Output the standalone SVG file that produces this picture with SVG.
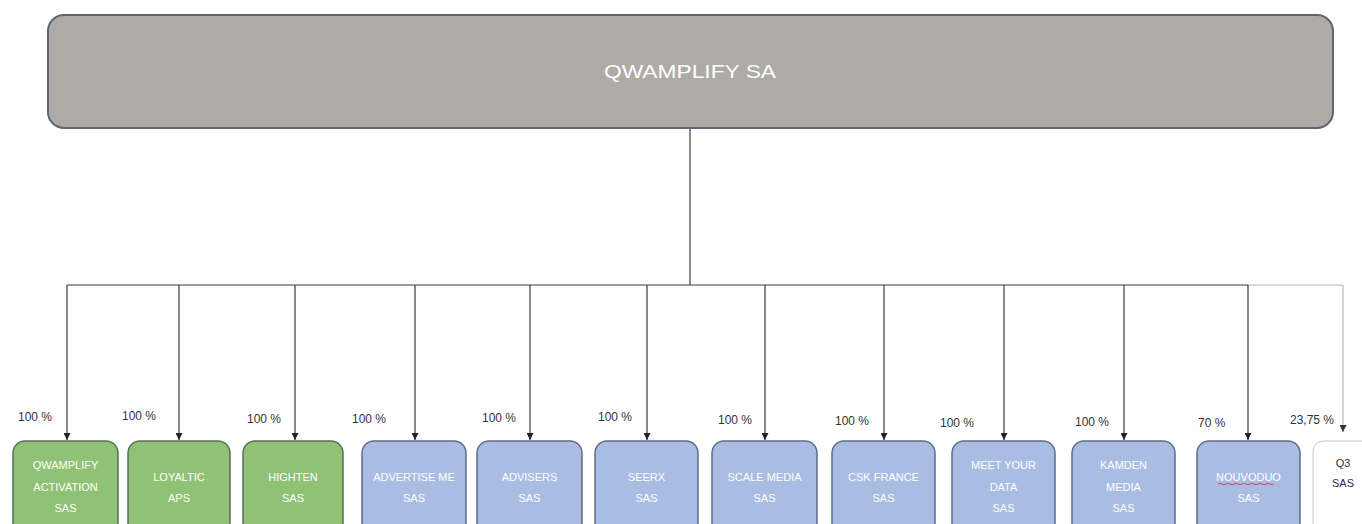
<svg xmlns="http://www.w3.org/2000/svg" width="1362" height="524" viewBox="0 0 1362 524">
<defs>
<marker id="ah" viewBox="0 0 8 8" refX="8" refY="4" markerWidth="7" markerHeight="7" markerUnits="userSpaceOnUse" orient="auto">
<path d="M0,0 L8,4 L0,8 Z" fill="#222"/>
</marker>
<marker id="ahl" viewBox="0 0 8 8" refX="8" refY="4" markerWidth="7" markerHeight="7" markerUnits="userSpaceOnUse" orient="auto">
<path d="M0,0 L8,4 L0,8 Z" fill="#333"/>
</marker>
<style>
.top{fill:#aeaba7;stroke:#5f6673;stroke-width:2}
.g{fill:#8fc274;stroke:#566f5a;stroke-width:1.5}
.b{fill:#a9bde2;stroke:#5b6b89;stroke-width:1.5}
.w{fill:#ffffff;stroke:#c8c8c8;stroke-width:1}
.t{font-family:"Liberation Sans",Arial,sans-serif;font-size:11px;fill:#ffffff;text-anchor:middle}
.td{font-family:"Liberation Sans",Arial,sans-serif;font-size:11px;fill:#333;text-anchor:middle}
.pct{font-family:"Liberation Sans",Arial,sans-serif;font-size:12px;fill:#333}
.c{stroke:#3a3a3a;stroke-width:1.2;fill:none}
.cl{stroke:#b5b5b5;stroke-width:1.2;fill:none}
</style>
</defs>
<rect width="1362" height="524" fill="#ffffff"/>

<g id="connectors">
<line class="c" x1="690" y1="128" x2="690" y2="285" stroke-width="2.2"/>
<line class="c" x1="67" y1="285" x2="1248" y2="285" stroke-width="2"/>
<line class="cl" x1="1248" y1="285" x2="1343" y2="285" stroke-width="1.6"/>
<line class="c" x1="67" y1="285" x2="67" y2="440" marker-end="url(#ah)"/>
<line class="c" x1="179" y1="285" x2="179" y2="440" marker-end="url(#ah)"/>
<line class="c" x1="295" y1="285" x2="295" y2="440" marker-end="url(#ah)"/>
<line class="c" x1="415" y1="285" x2="415" y2="440" marker-end="url(#ah)"/>
<line class="c" x1="530" y1="285" x2="530" y2="440" marker-end="url(#ah)"/>
<line class="c" x1="647" y1="285" x2="647" y2="440" marker-end="url(#ah)"/>
<line class="c" x1="765" y1="285" x2="765" y2="440" marker-end="url(#ah)"/>
<line class="c" x1="884" y1="285" x2="884" y2="440" marker-end="url(#ah)"/>
<line class="c" x1="1004" y1="285" x2="1004" y2="440" marker-end="url(#ah)"/>
<line class="c" x1="1124" y1="285" x2="1124" y2="440" marker-end="url(#ah)"/>
<line class="c" x1="1248" y1="285" x2="1248" y2="440" marker-end="url(#ah)"/>
<line class="cl" x1="1343" y1="285" x2="1343" y2="432" marker-end="url(#ahl)"/>
<text class="pct" x="18" y="421">100 %</text>
<text class="pct" x="122" y="420">100 %</text>
<text class="pct" x="247" y="423">100 %</text>
<text class="pct" x="352" y="423">100 %</text>
<text class="pct" x="482" y="422">100 %</text>
<text class="pct" x="598" y="421">100 %</text>
<text class="pct" x="718" y="424">100 %</text>
<text class="pct" x="835" y="425">100 %</text>
<text class="pct" x="940" y="427">100 %</text>
<text class="pct" x="1075" y="426">100 %</text>
<text class="pct" x="1198" y="427">70 %</text>
<text class="pct" x="1290" y="424">23,75 %</text>
</g>

<g id="qwamplify-sa">
<rect class="top" x="48" y="15" width="1285" height="113" rx="16"/>
<text x="690" y="78" font-family="Liberation Sans,Arial,sans-serif" font-size="19" fill="#ffffff" text-anchor="middle" textLength="172" lengthAdjust="spacingAndGlyphs">QWAMPLIFY SA</text>
</g>

<g id="qwamplify-activation">
<rect class="g" x="13" y="441" width="105" height="94" rx="12"/>
<text class="t" x="65.5" y="469">QWAMPLIFY</text>
<text class="t" x="65.5" y="491">ACTIVATION</text>
<text class="t" x="65.5" y="512">SAS</text>
</g>
<g id="loyaltic">
<rect class="g" x="128" y="441" width="102" height="94" rx="12"/>
<text class="t" x="179" y="481">LOYALTIC</text>
<text class="t" x="179" y="502">APS</text>
</g>
<g id="highten">
<rect class="g" x="243" y="441" width="100" height="94" rx="12"/>
<text class="t" x="293" y="481">HIGHTEN</text>
<text class="t" x="293" y="502">SAS</text>
</g>
<g id="advertise-me">
<rect class="b" x="362" y="441" width="104" height="94" rx="12"/>
<text class="t" x="414" y="481">ADVERTISE ME</text>
<text class="t" x="414" y="502">SAS</text>
</g>
<g id="advisers">
<rect class="b" x="477" y="441" width="105" height="94" rx="12"/>
<text class="t" x="529.5" y="481">ADVISERS</text>
<text class="t" x="529.5" y="502">SAS</text>
</g>
<g id="seerx">
<rect class="b" x="595" y="441" width="103" height="94" rx="12"/>
<text class="t" x="646.5" y="481">SEERX</text>
<text class="t" x="646.5" y="502">SAS</text>
</g>
<g id="scale-media">
<rect class="b" x="712" y="441" width="105" height="94" rx="12"/>
<text class="t" x="764.5" y="481">SCALE MEDIA</text>
<text class="t" x="764.5" y="502">SAS</text>
</g>
<g id="csk-france">
<rect class="b" x="832" y="441" width="103" height="94" rx="12"/>
<text class="t" x="883.5" y="481">CSK FRANCE</text>
<text class="t" x="883.5" y="502">SAS</text>
</g>
<g id="meet-your-data">
<rect class="b" x="952" y="441" width="103" height="94" rx="12"/>
<text class="t" x="1003.5" y="469">MEET YOUR</text>
<text class="t" x="1003.5" y="491">DATA</text>
<text class="t" x="1003.5" y="512">SAS</text>
</g>
<g id="kamden-media">
<rect class="b" x="1072" y="441" width="103" height="94" rx="12"/>
<text class="t" x="1123.5" y="469">KAMDEN</text>
<text class="t" x="1123.5" y="491">MEDIA</text>
<text class="t" x="1123.5" y="512">SAS</text>
</g>
<g id="nouvoduo">
<rect class="b" x="1197" y="441" width="103" height="94" rx="12"/>
<text class="t" x="1248.5" y="481">NOUVODUO</text>
<path d="M1218,484 q2,-1.5 4,0 t4,0 t4,0 t4,0 t4,0 t4,0 t4,0 t4,0 t4,0 t4,0 t4,0 t4,0 t4,0 t4,0" stroke="#d9485a" stroke-width="1" fill="none"/>
<text class="t" x="1248.5" y="502">SAS</text>
</g>
<g id="q3">
<rect class="w" x="1313" y="441" width="70" height="94" rx="10"/>
<text class="td" x="1343" y="467">Q3</text>
<text class="td" x="1343" y="487">SAS</text>
</g>
</svg>
